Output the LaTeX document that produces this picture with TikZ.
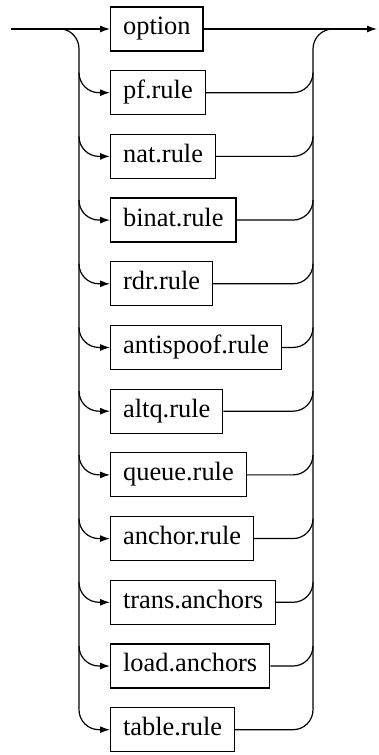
\documentclass[tikz,border=0pt]{standalone}
\usepackage{fontspec}
\setmainfont{Liberation Serif}
\usetikzlibrary{arrows.meta,calc}

\tikzset{
  rulebox/.style={draw, line width=1.2pt, anchor=west, minimum height=44pt,
    inner xsep=12.5pt, text height=18pt, text depth=6pt,
    font=\fontsize{26.4}{30}\selectfont},
  track/.style={line width=1.2pt},
  arr/.style={-{Latex[length=10pt,width=7pt]}}
}

\begin{document}
\begin{tikzpicture}[x=1pt,y=1pt]
  \useasboundingbox (0,0) rectangle (378,755);

  % rails and ends
  \coordinate (start) at (11,726);
  \coordinate (finish) at (377,726);
  \coordinate (lrail) at (79,0);
  \coordinate (rrail) at (313,0);

  % the boxes
  \foreach \lbl [count=\i from 0] in {option,pf.rule,nat.rule,binat.rule,rdr.rule,
      antispoof.rule,altq.rule,queue.rule,anchor.rule,trans.anchors,load.anchors,table.rule}
    \node[rulebox] (r\i) at (110,726-63.7*\i) {\lbl};

  % straight through
  \draw[track,arr] (start) -- (r0.west);
  \draw[track,arr] (r0.east) -- (finish);

  % left rail
  \draw[track] ($(start)+(49,0)$) to[out=0,in=90] ($(r0.west -| lrail)+(0,-20)$)
    -- ($(r11.west -| lrail)+(0,20)$);

  % right rail
  \draw[track] ($(r11.west -| rrail)+(0,20)$) -- ($(r0.west -| rrail)+(0,-20)$)
    to[out=90,in=180] ($(r0.west -| rrail)+(20,0)$);

  % branches
  \foreach \i in {1,...,11} {
    \draw[track,arr] ($(r\i.west -| lrail)+(0,20)$) to[out=-90,in=180]
      ($(r\i.west)+(-11,0)$) -- (r\i.west);
    \draw[track] (r\i.east) -- ($(r\i.east -| rrail)+(-20,0)$)
      to[out=0,in=-90] ($(r\i.east -| rrail)+(0,20)$);
  }
\end{tikzpicture}
\end{document}
